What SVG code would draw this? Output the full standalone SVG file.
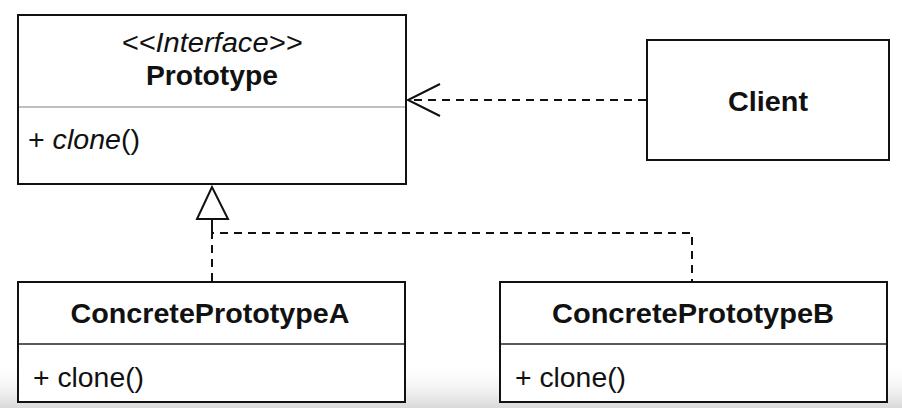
<svg xmlns="http://www.w3.org/2000/svg" width="902" height="408" viewBox="0 0 902 408">
<defs>
<linearGradient id="shade" x1="0" y1="0" x2="0" y2="1">
<stop offset="0" stop-color="#ffffff" stop-opacity="0"/>
<stop offset="1" stop-color="#d9d9d9"/>
</linearGradient>
<marker id="open" markerWidth="40" markerHeight="40" refX="33" refY="17" orient="auto" markerUnits="userSpaceOnUse" viewBox="0 0 40 34">
<path d="M1,1 L33,17 L1,33" fill="none" stroke="#111" stroke-width="2"/>
</marker>
</defs>
<style>
.box{fill:#fff;stroke:#111;stroke-width:2}
.div{stroke:#222;stroke-width:1.5}
.divg{stroke:#aaa;stroke-width:1.5}
.title{font-family:"Liberation Sans",Arial,sans-serif;font-weight:bold;font-size:28px;fill:#111;text-anchor:middle}
.stereo{font-family:"Liberation Sans",Arial,sans-serif;font-style:italic;font-size:27px;fill:#111;text-anchor:middle}
.op{font-family:"Liberation Sans",Arial,sans-serif;font-size:28px;fill:#111}
.dash{fill:none;stroke:#111;stroke-width:2;stroke-dasharray:8 6}
</style>
<rect width="902" height="408" fill="#fff"/>
<rect x="0" y="362" width="902" height="46" fill="url(#shade)"/>
<g id="prototype">
<rect class="box" x="18" y="15" width="388" height="169"/>
<line class="divg" x1="19" y1="107" x2="405" y2="107"/>
<text class="stereo" x="212" y="52" textLength="181" lengthAdjust="spacingAndGlyphs">&lt;&lt;Interface&gt;&gt;</text>
<text class="title" x="212" y="85" textLength="132" lengthAdjust="spacingAndGlyphs">Prototype</text>
<text class="op" x="28" y="149" textLength="112" lengthAdjust="spacingAndGlyphs">+ <tspan font-style="italic">clone</tspan>()</text>
</g>
<g id="client">
<rect class="box" x="647" y="40" width="242" height="120"/>
<text class="title" x="768" y="111" textLength="80" lengthAdjust="spacingAndGlyphs">Client</text>
</g>
<g id="concreteA">
<rect class="box" x="18" y="282" width="387" height="120"/>
<line class="div" x1="19" y1="344" x2="404" y2="344"/>
<text class="title" x="210" y="323" textLength="279" lengthAdjust="spacingAndGlyphs">ConcretePrototypeA</text>
<text class="op" x="33" y="387" textLength="111" lengthAdjust="spacingAndGlyphs">+ clone()</text>
</g>
<g id="concreteB">
<rect class="box" x="500" y="282" width="387" height="120"/>
<line class="div" x1="501" y1="344" x2="886" y2="344"/>
<text class="title" x="693" y="323" textLength="282" lengthAdjust="spacingAndGlyphs">ConcretePrototypeB</text>
<text class="op" x="515" y="387" textLength="111" lengthAdjust="spacingAndGlyphs">+ clone()</text>
</g>
<g id="connectors">
<line class="dash" x1="646" y1="100" x2="408" y2="100" marker-end="url(#open)"/>
<path class="dash" d="M212,281 L212,233 L692,233 L692,281"/>
<line x1="212" y1="219" x2="212" y2="233" stroke="#111" stroke-width="2"/>
<polygon points="212,187 197,219 228,219" fill="#fff" stroke="#111" stroke-width="2"/>
</g>
</svg>
